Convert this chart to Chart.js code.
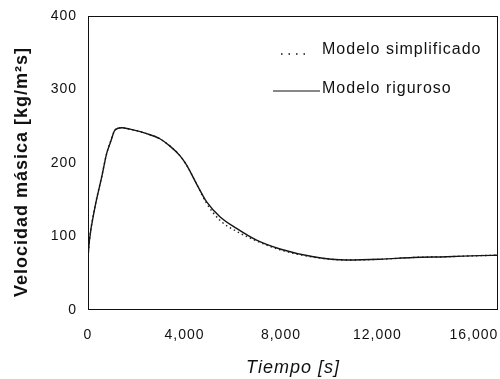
<!DOCTYPE html>
<html>
<head>
<meta charset="utf-8">
<script src="https://cdn.jsdelivr.net/npm/chart.js@4"></script>
<style>
  html, body { margin: 0; padding: 0; background: #fff; }
</style>
</head>
<body>
<canvas id="myChartLine" width="500" height="379"></canvas>
<script>
// Datos
const tiempo = [0, 60, 290, 570, 775, 940, 1120, 1400, 1740, 2430, 2980, 3400, 3810, 4090, 4510, 4920, 5470, 6160, 6990, 7960, 9340, 10720, 12100, 13480, 14870, 16250, 17000];
const modeloRiguroso = [72, 95, 140, 181, 213, 229, 245, 248, 246, 240, 233, 223, 210, 197, 171, 147, 127, 111, 95, 83, 72.5, 68, 69, 71.5, 72.5, 74, 74.5];
const modeloSimplificado = [72, 95, 141, 182, 213, 230, 245, 248, 246, 240, 233, 223, 210, 197, 171, 145, 122, 107, 94, 82, 72, 68, 69, 71.5, 72.5, 74, 74.5];
const ticksX = [0, 4000, 8000, 12000, 16000];
const etiquetas = ['Modelo simplificado', 'Modelo riguroso'];

const fuente = "'Liberation Sans', Arial, sans-serif";

// Caja del grafico y leyenda dentro del area
const cajaYLeyenda = {
    id: 'cajaYLeyenda',
    beforeUpdate(chart) {
        chart.ctx.letterSpacing = '1px'; // el escaneo tiene letras separadas
    },
    afterDatasetsDraw(chart) {
        const ctx = chart.ctx;
        const a = chart.chartArea;
        ctx.save();
        ctx.strokeStyle = '#111';
        ctx.lineWidth = 1;
        ctx.strokeRect(a.left + 0.5, a.top + 0.5, a.right - a.left - 1, a.bottom - a.top - 1);

        ctx.font = '16px ' + fuente;
        ctx.fillStyle = '#111';
        ctx.textBaseline = 'middle';
        // leyenda: punteada
        ctx.setLineDash([1.5, 6]);
        ctx.lineWidth = 1.5;
        ctx.beginPath();
        ctx.moveTo(281, 54);
        ctx.lineTo(309, 54);
        ctx.stroke();
        ctx.fillText(etiquetas[0], 322, 50);
        // leyenda: continua
        ctx.setLineDash([]);
        ctx.lineWidth = 1.2;
        ctx.beginPath();
        ctx.moveTo(273, 91);
        ctx.lineTo(320, 91);
        ctx.stroke();
        ctx.fillText(etiquetas[1], 322, 89);
        ctx.restore();
    }
};

new Chart(document.getElementById('myChartLine'), {
    type: 'line',
    data: {
        datasets: [{
            label: etiquetas[1],
            data: tiempo.map((t, i) => ({ x: t, y: modeloRiguroso[i] })),
            borderColor: '#151515',
            borderWidth: 1.4,
            pointRadius: 0,
            cubicInterpolationMode: 'monotone'
        }, {
            label: etiquetas[0],
            data: tiempo.map((t, i) => ({ x: t, y: modeloSimplificado[i] })),
            borderColor: '#222',
            borderWidth: 1.4,
            borderDash: [1.5, 3],
            pointRadius: 0,
            cubicInterpolationMode: 'monotone'
        }]
    },
    options: {
        responsive: false,
        animation: false,
        layout: { padding: { top: 16, right: 2, left: 0, bottom: 0 } },
        plugins: {
            legend: { display: false },
            tooltip: { enabled: false }
        },
        scales: {
            x: {
                type: 'linear',
                min: 0,
                max: 17000,
                afterFit: s => { s.height = 69; s.paddingLeft = 0; s.paddingRight = 0; },
                afterBuildTicks: s => { s.ticks = ticksX.map(v => ({ value: v })); },
                grid: { display: false, drawTicks: false, tickLength: 0 },
                border: { display: false },
                ticks: {
                    color: '#111',
                    padding: 17,
                    maxRotation: 0,
                    font: { family: fuente, size: 14 },
                    callback: v => v.toLocaleString('en-US')
                },
                title: {
                    display: true,
                    text: 'Tiempo [s]',
                    color: '#111',
                    padding: { top: 0, bottom: 0 },
                    font: { family: fuente, size: 18, style: 'italic' }
                }
            },
            y: {
                min: 0,
                max: 400,
                afterFit: s => { s.width = 88; s.paddingTop = 0; s.paddingBottom = 0; },
                grid: { display: false, drawTicks: false, tickLength: 0 },
                border: { display: false },
                ticks: {
                    stepSize: 100,
                    color: '#111',
                    padding: 11,
                    font: { family: fuente, size: 14 }
                },
                title: {
                    display: true,
                    text: 'Velocidad másica [kg/m²s]   ',
                    color: '#111',
                    padding: { top: 11, bottom: 0 },
                    font: { family: fuente, size: 18, weight: 'bold' }
                }
            }
        }
    },
    plugins: [cajaYLeyenda]
});
</script>
</body>
</html>
